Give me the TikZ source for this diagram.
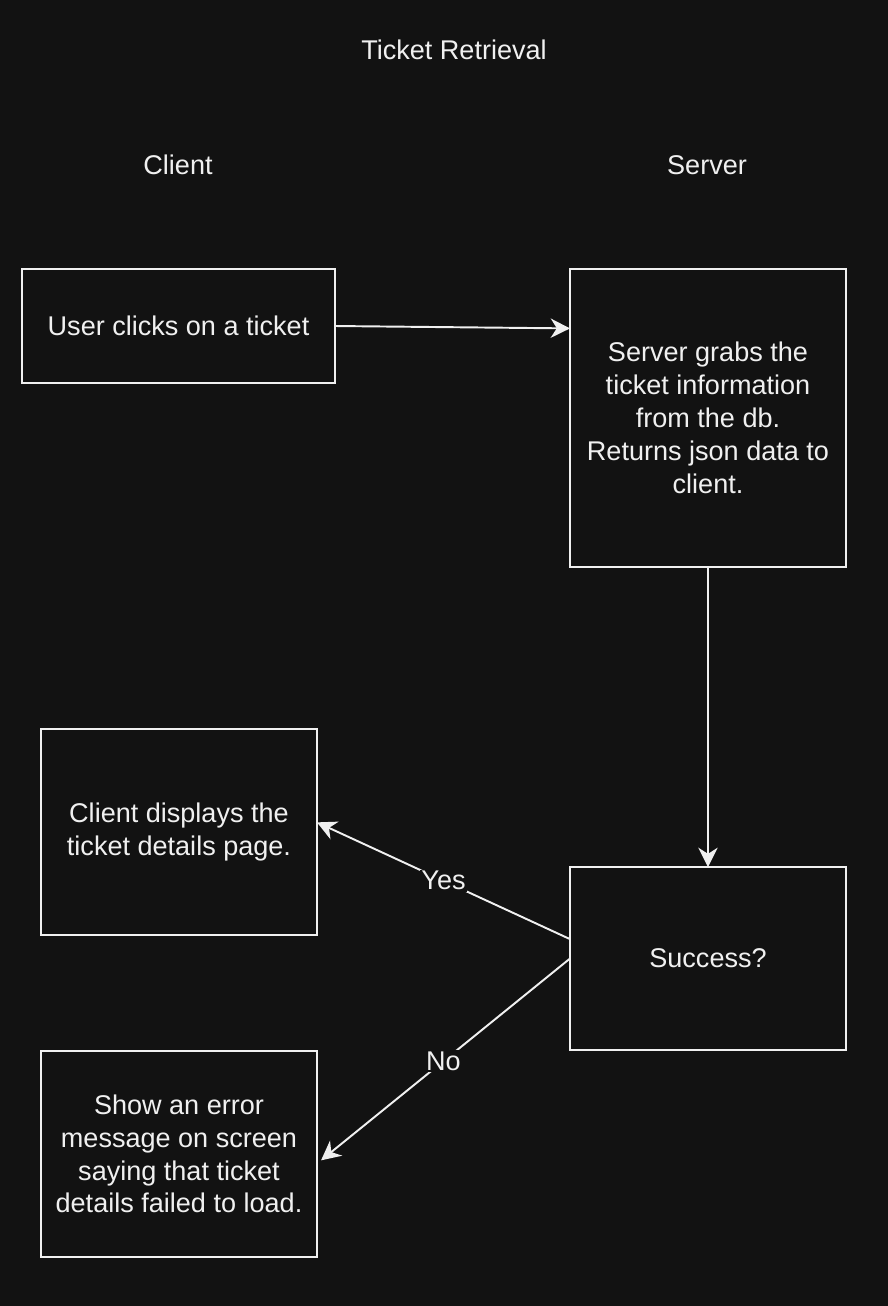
\documentclass[tikz,border=0pt]{standalone}
\usepackage{fontspec}
\setmainfont{Liberation Sans}
\usetikzlibrary{positioning,arrows.meta}
\definecolor{bg}{HTML}{121212}
\definecolor{fg}{HTML}{F0F0F0}

\begin{document}
\begin{tikzpicture}[x=0.02cm, y=-0.02cm,
    every node/.style={text=fg, font=\fontsize{15.4pt}{18.7pt}\selectfont},
    box/.style={draw=fg, line width=1.1pt, align=center, inner sep=0pt, outer sep=0pt},
    flow/.style={draw=fg, line width=1.1pt, -{Stealth[length=11pt, width=11pt, inset=3.5pt]}},
    lbl/.style={fill=bg, inner sep=1pt}]
    \fill[bg] (0,0) rectangle (888,1306);

    \node (title) at (454,50) {Ticket Retrieval};
    \node (client) at (178,165) {Client};
    \node (server) at (707,165) {Server};

    \node[box, minimum width=6.26cm, minimum height=2.28cm] (click) at (178.5,326) {User clicks on a ticket};
    \node[box, minimum width=5.52cm, minimum height=5.96cm] (grab) at (708,418)
        {Server grabs the\\ticket information\\from the db.\\Returns json data to\\client.};
    \node[box, minimum width=5.52cm, minimum height=4.12cm] (show) at (179,832)
        {Client displays the\\ticket details page.};
    \node[box, minimum width=5.52cm, minimum height=3.66cm] (ok) at (708,958.5) {Success?};
    \node[box, minimum width=5.52cm, minimum height=4.12cm] (fail) at (179,1154)
        {Show an error\\message on screen\\saying that ticket\\details failed to load.};

    \draw[flow] (click.east) -- (grab.147.3);
    \draw[flow] (grab.south) -- (ok.north);
    \draw[flow] (ok.172.8) -- node[lbl] {Yes} (show.4.1);
    \draw[flow, shorten >=3pt] (ok.180.6) -- node[lbl] {No} (fail.-4.1);
\end{tikzpicture}
\end{document}
